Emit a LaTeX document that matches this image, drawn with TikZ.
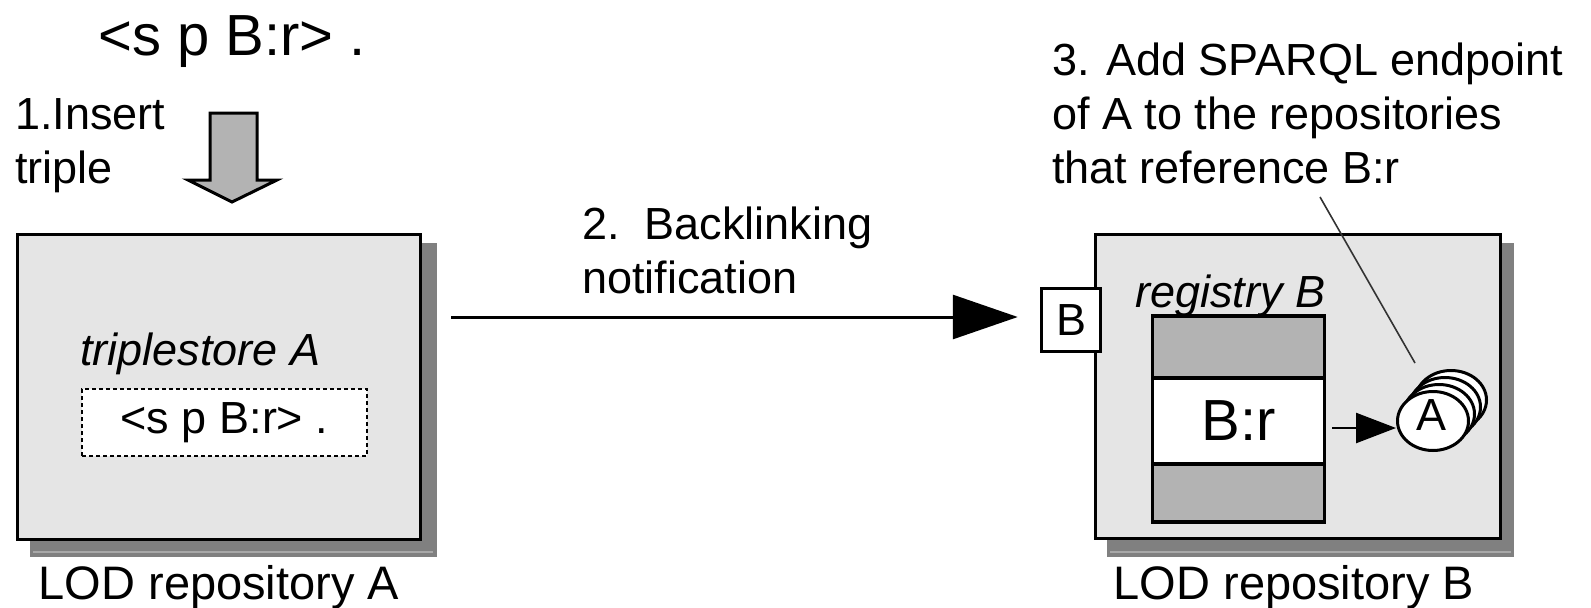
\documentclass[tikz,border=0pt]{standalone}
\usepackage{fontspec}
\setmainfont{Liberation Sans}
\usetikzlibrary{arrows.meta,shapes.geometric}
\definecolor{boxfill}{HTML}{E5E5E5}
\definecolor{shadowgray}{HTML}{808080}
\definecolor{shadowline}{HTML}{A8A8A8}
\definecolor{cellgray}{HTML}{B3B3B3}
\definecolor{leadgray}{HTML}{333333}

\begin{document}
\begin{tikzpicture}[x=1pt,y=-1pt,
  txt/.style={inner sep=0pt, anchor=base west, align=left,
    font=\fontsize{45}{54}\selectfont},
  bigtxt/.style={txt, font=\fontsize{58}{66}\selectfont},
  ittxt/.style={txt, font=\fontsize{45}{54}\selectfont\itshape},
  caption/.style={txt, anchor=base, font=\fontsize{47}{54}\selectfont},
  repo/.style={draw, line width=3.5pt, fill=boxfill, inner sep=0pt},
  shadow/.style={fill=shadowgray},
  shadowedge/.style={draw=shadowline, line width=2pt},
  cell/.style={draw, line width=3.5pt, inner sep=0pt, minimum width=172pt},
  tag/.style={draw, line width=3.5pt, fill=white, inner sep=0pt,
    font=\fontsize{45}{54}\selectfont},
  store/.style={draw, line width=2.2pt, dash pattern=on 4pt off 3pt,
    fill=white, inner sep=0pt, font=\fontsize{45}{54}\selectfont},
  disc/.style={ellipse, draw, line width=3pt, fill=white, inner sep=0pt,
    minimum width=71pt, minimum height=59pt},
  flow/.style={line width=3pt, -{Triangle[length=65pt,width=44pt]}},
  link/.style={line width=2.5pt, -{Triangle[length=40pt,width=30pt]}},
  lead/.style={draw=leadgray, line width=1.6pt},
  bigarrow/.style={draw, line width=3pt, fill=cellgray, line join=miter}]

\useasboundingbox (0,0) rectangle (1591,608);

% ---- repository A ----
\fill[shadow] (30,243) rectangle (437,557);
\draw[shadowedge] (33,552) -- (433,552);
\node[repo, minimum width=403pt, minimum height=305pt] (repoA) at (219,387) {};
\node[ittxt] (tsA) at (80,365) {triplestore A};
\node[store, minimum width=285pt, minimum height=67pt] (storeA) at (224.5,422.5) {<s p B:r> .};
\node[caption] (lodA) at (219,599) {LOD repository A};

% ---- insertion ----
\node[bigtxt] (triple) at (98,55) {<s p B:r> .};
% multi-line labels are placed by the baseline of their last line
\node[txt] (step1) at (15,183) {1.Insert\\triple};
\draw[bigarrow] (210,113) -- (257,113) -- (257,180) -- (277,180)
  -- (232,202) -- (188,180) -- (210,180) -- cycle;

% ---- repository B ----
\fill[shadow] (1107,243) rectangle (1514,557);
\draw[shadowedge] (1110,552) -- (1511,552);
\node[repo, minimum width=405pt, minimum height=304pt] (repoB) at (1298,386.5) {};
\node[tag, minimum width=59pt, minimum height=63pt] (tagB) at (1071,320) {B};
\node[ittxt] (regB) at (1135,307) {registry B};
\node[cell, fill=cellgray, minimum height=62pt] (cellTop) at (1238.5,347) {};
\node[cell, fill=white, minimum height=86pt, font=\fontsize{58}{66}\selectfont] (cellMid) at (1238.5,421) {B:r};
\node[cell, fill=cellgray, minimum height=58pt] (cellBot) at (1238.5,493) {};
\node[caption] (lodB) at (1294,599) {LOD repository B};

% stacked endpoint discs
\node[disc] (disc3) at (1451,400) {};
\node[disc] (disc2) at (1445,407) {};
\node[disc] (disc1) at (1439,414) {};
\node[disc] (disc0) at (1433,421) {};
\node[txt, anchor=base] (discA) at (1431,430) {A};

% ---- step 2 ----
\node[txt] (step2) at (582,293) {2.\ \ Backlinking\\notification};
\coordinate (notifyStart) at (451,317);
\draw[flow, shorten >=22pt] (notifyStart) -- (notifyStart -| tagB.west);

% ---- step 3 ----
\node[txt] (step3) at (1052,183) {3. Add SPARQL endpoint\\of A to the repositories\\that reference B:r};
\coordinate (leadTop) at (1320,197);
\coordinate (leadEnd) at (1415,363);
\draw[lead] (leadTop) -- (leadEnd);

\coordinate (mapStart) at (1332,428);
\draw[link] (mapStart) -- (mapStart -| disc0.west);
\end{tikzpicture}
\end{document}
